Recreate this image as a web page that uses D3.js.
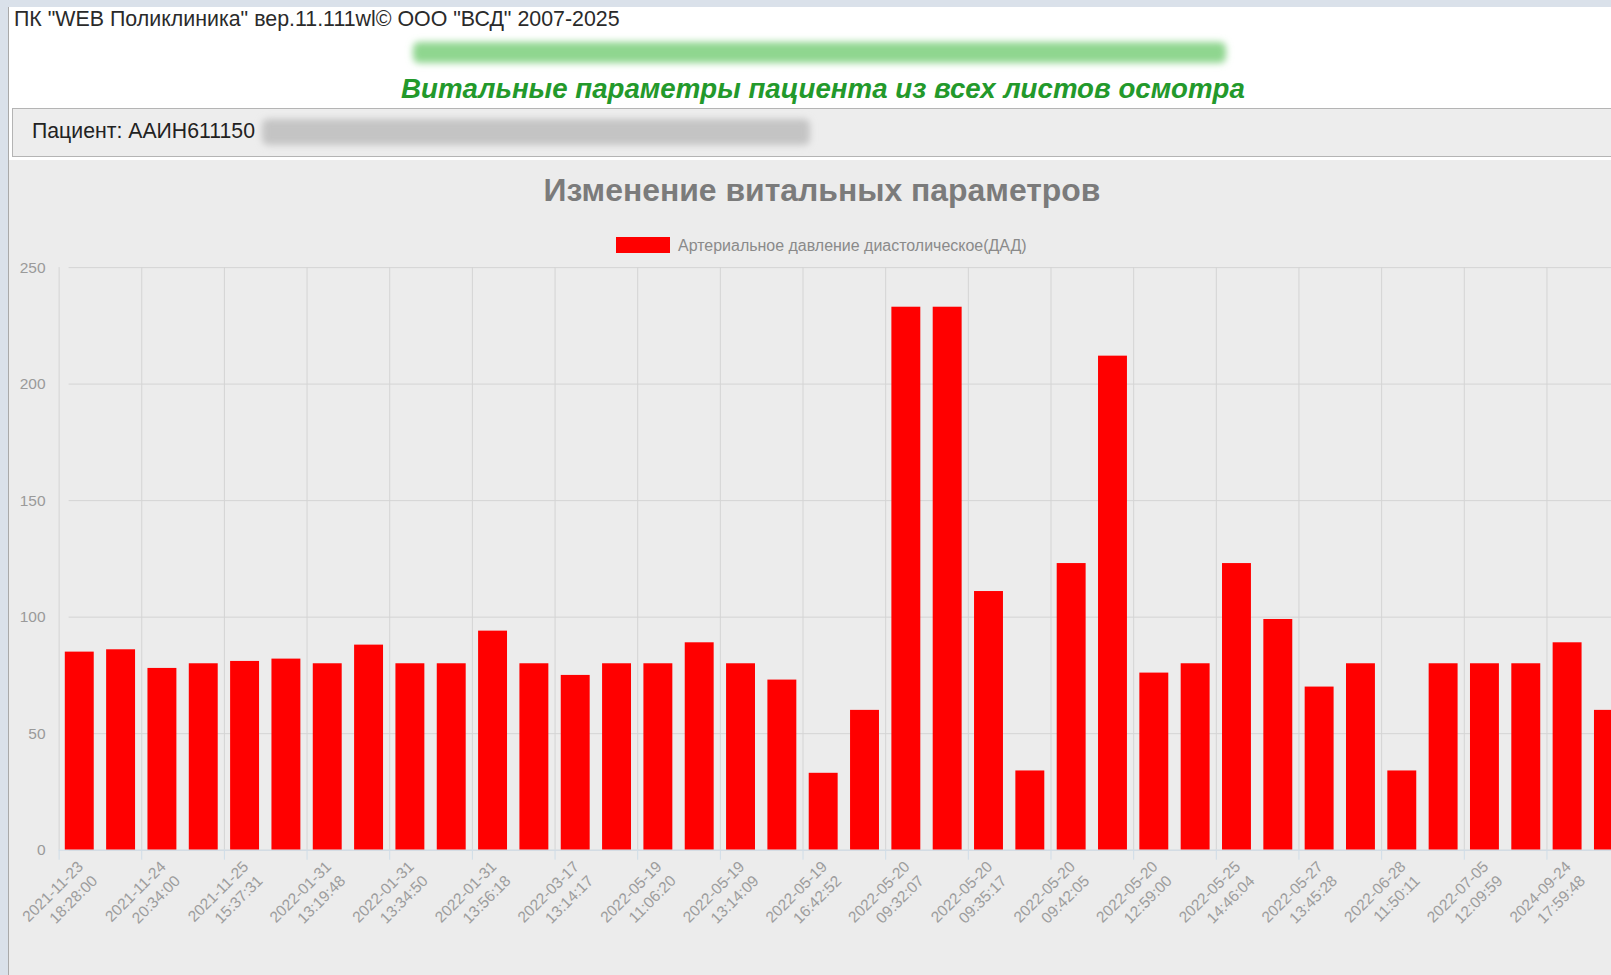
<!DOCTYPE html>
<html>
<head>
<meta charset="utf-8">
<script src="https://cdn.jsdelivr.net/npm/d3@7"></script>
<style>
  html, body { margin: 0; padding: 0; overflow: hidden; background: #dae1ea; }
  svg { display: block; }
</style>
</head>
<body>
<div id="page"></div>
<script>
// данные: дата осмотра (видна только каждая вторая подпись) и ДАД
const dates = [
  '2021-11-23', null, '2021-11-24', null, '2021-11-25', null, '2022-01-31', null,
  '2022-01-31', null, '2022-01-31', null, '2022-03-17', null, '2022-05-19', null,
  '2022-05-19', null, '2022-05-19', null, '2022-05-20', null, '2022-05-20', null,
  '2022-05-20', null, '2022-05-20', null, '2022-05-25', null, '2022-05-27', null,
  '2022-06-28', null, '2022-07-05', null, '2024-09-24', null
];
const times = [
  '18:28:00', null, '20:34:00', null, '15:37:31', null, '13:19:48', null,
  '13:34:50', null, '13:56:18', null, '13:14:17', null, '11:06:20', null,
  '13:14:09', null, '16:42:52', null, '09:32:07', null, '09:35:17', null,
  '09:42:05', null, '12:59:00', null, '14:46:04', null, '13:45:28', null,
  '11:50:11', null, '12:09:59', null, '17:59:48', null
];
const dadValues = [85, 86, 78, 80, 81, 82, 80, 88, 80, 80, 94, 80, 75, 80, 80, 89, 80, 73, 33, 60,
  233, 233, 111, 34, 123, 212, 76, 80, 123, 99, 70, 80, 34, 80, 80, 80, 89, 60];
const yTicks = [0, 50, 100, 150, 200, 250];
const seriesName = 'Артериальное давление диастолическое(ДАД)';

const font = '"Liberation Sans", Arial, sans-serif';
const pageW = 1660, pageH = 975;

const svg = d3.select('#page')
    .append('svg')
    .attr('width', pageW)
    .attr('height', pageH);

// рамка окна и фон страницы
svg.append('rect').attr('width', pageW).attr('height', pageH).attr('fill', '#dae1ea');
svg.append('rect').attr('x', 8).attr('y', 7).attr('width', pageW).attr('height', pageH)
    .attr('fill', '#ffffff');
svg.append('rect').attr('x', 8).attr('y', 160).attr('width', pageW).attr('height', pageH)
    .attr('fill', '#ececec');
svg.append('line').attr('x1', 8.5).attr('x2', 8.5).attr('y1', 7).attr('y2', pageH)
    .attr('stroke', '#a9a9a9');

const defs = svg.append('defs');
defs.append('filter').attr('id', 'blur').attr('x', '-10%').attr('y', '-50%')
    .attr('width', '120%').attr('height', '200%')
    .append('feGaussianBlur').attr('stdDeviation', 3.5);

// подгоняет кегль под ширину надписи на исходнике
function fitWidth(sel, w) {
  const cur = sel.node().getComputedTextLength();
  const fs = parseFloat(sel.attr('font-size'));
  sel.attr('font-size', (fs * w / cur).toFixed(2));
}

// шапка
const head = svg.append('text')
    .attr('x', 14).attr('y', 26)
    .attr('font-family', font).attr('font-size', 17).attr('fill', '#2a2a2a')
    .text('ПК "WEB Поликлиника" вер.11.111wl© ООО "ВСД" 2007-2025');
fitWidth(head, 606);

// скрытое название учреждения
svg.append('rect')
    .attr('x', 413).attr('y', 42).attr('width', 813).attr('height', 21).attr('rx', 6)
    .attr('fill', '#8fd68f').attr('filter', 'url(#blur)');

const greenTitle = svg.append('text')
    .attr('x', 823).attr('y', 98)
    .attr('text-anchor', 'middle')
    .attr('font-family', font).attr('font-size', 24)
    .attr('font-weight', 'bold').attr('font-style', 'italic')
    .attr('fill', '#23992b')
    .text('Витальные параметры пациента из всех листов осмотра');
fitWidth(greenTitle, 844);

// блок пациента
svg.append('rect')
    .attr('x', 12.5).attr('y', 108.5).attr('width', pageW).attr('height', 48)
    .attr('fill', '#ededed').attr('stroke', '#b4b4b4');
const patient = svg.append('text')
    .attr('x', 32).attr('y', 138)
    .attr('font-family', font).attr('font-size', 18).attr('fill', '#222')
    .text('Пациент: ААИН611150');
fitWidth(patient, 223);
svg.append('rect')
    .attr('x', 262).attr('y', 119).attr('width', 548).attr('height', 26).attr('rx', 6)
    .attr('fill', '#c4c4c4').attr('filter', 'url(#blur)');

// заголовок диаграммы
const chartTitle = svg.append('text')
    .attr('x', 822).attr('y', 201)
    .attr('text-anchor', 'middle')
    .attr('font-family', font).attr('font-size', 28)
    .attr('font-weight', 'bold').attr('fill', '#7b7b7b')
    .text('Изменение витальных параметров');
fitWidth(chartTitle, 557);

// легенда
svg.append('rect')
    .attr('x', 616).attr('y', 237).attr('width', 54).attr('height', 16)
    .attr('fill', '#ff0000');
const legendText = svg.append('text')
    .attr('x', 678).attr('y', 245).attr('dy', '0.35em')
    .attr('font-family', font).attr('font-size', 15).attr('fill', '#8a8a8a')
    .text(seriesName);
fitWidth(legendText, 349);

// область построения
const plot = { left: 58.6, right: 1629.1, top: 267.1, bottom: 849.7 };

const xScale = d3.scaleBand()
    .domain(d3.range(dadValues.length))
    .range([plot.left, plot.right])
    .paddingInner(0.3)
    .paddingOuter(0.15);

const yScale = d3.scaleLinear()
    .domain([0, 250])
    .range([plot.bottom, plot.top]);

const step = xScale.step();
const shown = d3.range(dadValues.length).filter(i => dates[i]);

// сетка по y
svg.append('g')
    .attr('transform', `translate(${plot.left}, 0)`)
    .call(d3.axisLeft(yScale).tickValues(yTicks).tickSize(-(plot.right - plot.left)).tickFormat(''))
    .call(g => g.select('.domain').remove())
    .call(g => g.selectAll('line').attr('stroke', '#d4d4d4').attr('x1', 10));

// сетка по x (по границам отображаемых категорий)
svg.append('g')
    .selectAll('line')
    .data(shown)
    .enter().append('line')
    .attr('x1', i => xScale(i) - step * 0.15 + 0.5)
    .attr('x2', i => xScale(i) - step * 0.15 + 0.5)
    .attr('y1', plot.top)
    .attr('y2', plot.bottom)
    .attr('stroke', '#d4d4d4');
svg.append('g')
    .selectAll('line')
    .data(shown)
    .enter().append('line')
    .attr('x1', i => xScale(i) - step * 0.15 + 0.5)
    .attr('x2', i => xScale(i) - step * 0.15 + 0.5)
    .attr('y1', plot.bottom)
    .attr('y2', plot.bottom + 10)
    .attr('stroke', '#cfdde8');

// подписи оси y
const yAxis = svg.append('g')
    .attr('transform', `translate(${plot.left - 13}, 0)`)
    .call(d3.axisLeft(yScale).tickValues(yTicks).tickSize(0).tickPadding(0));
yAxis.select('.domain').remove();
yAxis.selectAll('text')
    .attr('font-family', font).attr('font-size', 15.5).attr('fill', '#9a9a9a');

// столбцы
svg.append('g')
    .selectAll('rect')
    .data(dadValues)
    .enter().append('rect')
    .attr('x', (d, i) => xScale(i))
    .attr('y', d => yScale(d))
    .attr('width', xScale.bandwidth())
    .attr('height', d => plot.bottom - yScale(d))
    .attr('fill', '#ff0000');

// ось x
svg.append('line')
    .attr('x1', plot.left).attr('x2', plot.right)
    .attr('y1', plot.bottom + 0.5).attr('y2', plot.bottom + 0.5)
    .attr('stroke', '#cfdde8');

// подписи оси x (повёрнутые, в две строки)
const xLabels = svg.append('g')
    .selectAll('g')
    .data(shown)
    .enter().append('g')
    .attr('transform', i => `translate(${xScale(i) + xScale.bandwidth() / 2 + 1}, ${plot.bottom + 14}) rotate(-45)`);

const lbl = xLabels.append('text')
    .attr('text-anchor', 'end')
    .attr('font-family', font).attr('font-size', 15.5).attr('fill', '#9d9d9d');
lbl.append('tspan').attr('x', 0).attr('dy', '0.35em').text(i => dates[i]);
lbl.append('tspan').attr('x', 0).attr('dy', '1.3em').text(i => times[i]);
</script>
</body>
</html>
